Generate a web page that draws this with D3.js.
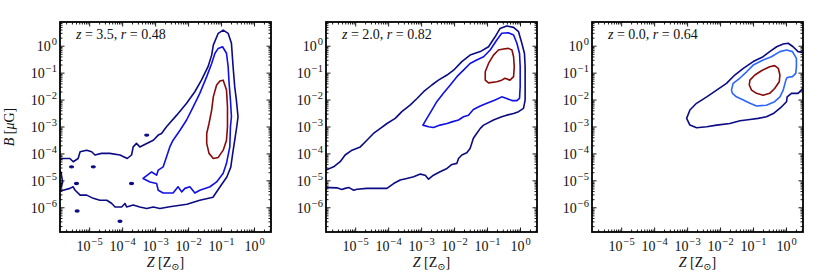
<!DOCTYPE html>
<html>
<head>
<meta charset="utf-8">
<title>B vs Z contours</title>
<script src="https://d3js.org/d3.v7.min.js"></script>
<style>
  body { margin: 0; background: #fff; }
  svg text { font-family: "Liberation Serif", "DejaVu Serif", serif; fill: #111; }
</style>
</head>
<body>
<script>
// contour vertices, each point is [log10 Z, log10 B]
var p1Outer = [[-6.0,-4.23],[-5.80,-4.17],[-5.60,-4.17],[-5.50,-4.29],[-5.35,-4.17],[-5.29,-3.92],[-5.09,-3.86],[-4.94,-3.92],
  [-4.84,-4.04],[-4.64,-3.98],[-4.39,-3.98],[-4.08,-4.04],[-3.86,-4.17],[-3.73,-4.04],[-3.68,-3.74],[-3.58,-3.61],[-3.48,-3.74],
  [-3.27,-3.61],[-3.07,-3.49],[-2.92,-3.30],[-2.82,-3.24],[-2.67,-2.99],[-2.36,-2.56],[-2.06,-2.12],[-1.81,-1.69],[-1.61,-1.26],
  [-1.41,-0.76],[-1.30,-0.33],[-1.25,0.04],[-1.10,0.48],[-0.95,0.60],[-0.80,0.48],[-0.70,0.11],[-0.65,-0.76],[-0.60,-1.51],
  [-0.55,-2.00],[-0.50,-2.62],[-0.54,-3.00],[-0.60,-3.49],[-0.66,-3.97],[-0.72,-4.49],[-0.84,-4.86],[-1.05,-5.23],[-1.26,-5.61],
  [-1.66,-5.72],[-2.05,-5.87],[-2.57,-5.96],[-2.87,-6.03],[-3.07,-5.97],[-3.27,-6.03],[-3.48,-5.97],[-3.68,-5.90],[-3.88,-5.97],
  [-3.93,-5.84],[-4.03,-5.97],[-4.23,-5.97],[-4.33,-5.84],[-4.48,-5.72],[-4.69,-5.72],[-4.89,-5.65],[-5.09,-5.53],[-5.29,-5.53],
  [-5.44,-5.35],[-5.50,-5.22],[-5.60,-5.28],[-5.80,-5.35],[-5.90,-5.35],[-5.82,-5.05],[-5.87,-4.68],[-6.0,-4.50]];
var p1Mid = [[-3.38,-4.91],[-3.12,-4.67],[-2.97,-4.79],[-2.92,-4.60],[-2.77,-4.48],[-2.67,-4.11],[-2.57,-3.74],[-2.47,-3.49],
  [-2.26,-3.12],[-2.06,-2.74],[-1.86,-2.25],[-1.66,-1.75],[-1.45,-1.13],[-1.30,-0.64],[-1.20,-0.26],[-1.10,-0.08],[-0.97,-0.02],
  [-0.85,-0.26],[-0.80,-0.76],[-0.77,-1.38],[-0.73,-2.00],[-0.70,-2.62],[-0.73,-2.99],[-0.75,-3.74],[-0.85,-4.35],[-0.95,-4.72],
  [-1.15,-5.04],[-1.35,-5.22],[-1.66,-5.35],[-1.81,-5.45],[-1.96,-5.22],[-2.11,-5.28],[-2.21,-5.41],[-2.32,-5.22],[-2.47,-5.45],
  [-2.77,-5.45],[-2.92,-5.35],[-2.97,-5.10],[-3.17,-5.04]];
var p1Inner = [[-0.95,-1.26],[-0.85,-1.63],[-0.82,-2.25],[-0.82,-2.99],[-0.85,-3.49],[-0.95,-3.86],[-1.10,-4.13],[-1.25,-4.17],
  [-1.38,-3.98],[-1.45,-3.61],[-1.45,-3.24],[-1.38,-2.87],[-1.30,-2.37],[-1.25,-1.88],[-1.15,-1.44],[-1.05,-1.29]];
var p1Islands = [[-5.55,-4.48],[-4.89,-4.48],[-5.40,-5.10],[-3.73,-5.10],[-5.38,-6.12],[-4.08,-6.50],[-3.27,-3.30]];

var p2Outer = [[-6.0,-4.65],[-5.90,-4.60],[-5.67,-4.48],[-5.47,-4.29],[-5.32,-4.04],[-5.11,-3.86],[-4.86,-3.74],[-4.66,-3.49],
  [-4.46,-3.24],[-4.25,-3.05],[-4.05,-2.87],[-3.80,-2.68],[-3.60,-2.43],[-3.35,-2.19],[-3.14,-1.94],[-2.94,-1.69],[-2.69,-1.44],
  [-2.49,-1.26],[-2.23,-1.07],[-2.03,-0.89],[-1.78,-0.57],[-1.53,-0.33],[-1.22,-0.20],[-0.97,-0.02],[-0.77,0.35],[-0.62,0.66],
  [-0.42,0.75],[-0.21,0.70],[-0.06,0.54],[0.04,0.11],[0.12,-0.27],[0.14,-0.76],[0.14,-1.50],[0.14,-2.00],[0.09,-2.31],
  [-0.06,-2.43],[-0.21,-2.50],[-0.42,-2.56],[-0.57,-2.62],[-0.82,-2.74],[-1.12,-2.93],[-1.22,-3.05],[-1.33,-3.24],[-1.43,-3.42],
  [-1.48,-3.61],[-1.53,-3.80],[-1.63,-3.96],[-1.78,-4.04],[-1.88,-4.17],[-1.93,-4.35],[-2.08,-4.39],[-2.23,-4.54],[-2.44,-4.66],
  [-2.64,-4.79],[-2.79,-4.94],[-2.89,-4.79],[-3.04,-4.75],[-3.24,-4.85],[-3.45,-4.91],[-3.65,-4.97],[-3.85,-5.10],[-4.05,-5.28],
  [-4.66,-5.28],[-4.96,-5.31],[-5.06,-5.35],[-5.16,-5.28],[-5.21,-5.25],[-5.32,-5.28],[-5.42,-5.32],[-5.57,-5.26],[-5.77,-5.25],
  [-5.90,-5.25],[-6.0,-5.25]];
var p2Mid = [[-2.96,-2.93],[-2.84,-2.68],[-2.69,-2.37],[-2.54,-2.06],[-2.34,-1.75],[-2.13,-1.44],[-1.93,-1.13],[-1.73,-0.89],
  [-1.53,-0.64],[-1.33,-0.51],[-1.12,-0.39],[-0.92,-0.14],[-0.72,0.23],[-0.57,0.48],[-0.37,0.50],[-0.21,0.42],[-0.11,0.11],
  [-0.03,-0.27],[-0.01,-0.76],[-0.01,-1.50],[-0.03,-1.94],[-0.11,-2.02],[-0.26,-2.02],[-0.42,-1.94],[-0.57,-1.88],[-0.77,-2.00],
  [-1.02,-2.12],[-1.22,-2.22],[-1.43,-2.35],[-1.58,-2.56],[-1.73,-2.62],[-1.88,-2.74],[-2.08,-2.81],[-2.23,-2.87],[-2.44,-2.93],
  [-2.64,-3.02],[-2.79,-2.99]];
var p2Inner = [[-1.07,-1.26],[-1.07,-0.95],[-0.97,-0.64],[-0.82,-0.33],[-0.67,-0.14],[-0.52,-0.10],[-0.37,-0.08],[-0.26,-0.14],
  [-0.21,-0.39],[-0.19,-0.76],[-0.21,-1.13],[-0.32,-1.26],[-0.47,-1.19],[-0.57,-1.26],[-0.72,-1.32],[-0.97,-1.36]];

var p3Outer = [[-3.03,-2.68],[-2.93,-2.37],[-2.73,-2.12],[-2.42,-1.88],[-2.12,-1.63],[-1.82,-1.38],[-1.57,-1.07],[-1.31,-0.82],
  [-1.01,-0.57],[-0.71,-0.39],[-0.51,-0.20],[-0.30,-0.02],[-0.10,0.08],[0.05,0.11],[0.20,-0.02],[0.35,-0.20],[0.56,-0.24],
  [0.70,-0.24],[0.70,-1.38],[0.56,-1.44],[0.45,-1.63],[0.35,-1.75],[0.15,-1.75],[0.02,-1.88],[0.00,-2.06],[-0.15,-2.25],
  [-0.40,-2.50],[-0.61,-2.62],[-0.86,-2.68],[-1.11,-2.72],[-1.41,-2.77],[-1.72,-2.87],[-2.12,-2.93],[-2.42,-2.99],[-2.73,-3.03],
  [-2.93,-2.93]];
var p3Mid = [[-1.67,-1.63],[-1.62,-1.38],[-1.42,-1.19],[-1.21,-0.95],[-1.01,-0.70],[-0.71,-0.51],[-0.46,-0.39],[-0.20,-0.20],
  [0.00,-0.14],[0.18,-0.20],[0.30,-0.45],[0.30,-0.76],[0.28,-1.01],[0.18,-1.13],[0.02,-1.16],[-0.02,-1.26],[-0.10,-1.63],
  [-0.20,-1.88],[-0.36,-2.06],[-0.61,-2.19],[-0.91,-2.22],[-1.11,-2.12],[-1.31,-2.00],[-1.52,-1.88],[-1.64,-1.75]];
var p3Inner = [[-1.13,-1.44],[-1.11,-1.26],[-0.96,-1.07],[-0.76,-0.91],[-0.51,-0.76],[-0.36,-0.72],[-0.25,-0.82],[-0.20,-1.07],
  [-0.22,-1.32],[-0.36,-1.57],[-0.51,-1.75],[-0.71,-1.82],[-0.91,-1.75],[-1.06,-1.63]];

var redshifts = ["3.5", "2.0", "0.0"];
var corrs = ["0.48", "0.82", "0.64"];
var xTickExps = [-5, -4, -3, -2, -1, 0];
var yTickExps = [-6, -5, -4, -3, -2, -1, 0];

// Setup
var width = 830, height = 277;
var pw = 211, ph = 210, panelTop = 22;
var lefts = [60, 326, 592];

var svg = d3.select("body").append("svg")
    .attr("width", width)
    .attr("height", height);

var x = d3.scaleLog().domain([Math.pow(10, -5.9), Math.pow(10, 0.5)]).range([0, pw]);
var y = d3.scaleLog().domain([Math.pow(10, -6.9), Math.pow(10, 0.9)]).range([ph, 0]);

var line = d3.line()
    .x(function(d) { return x(Math.pow(10, d[0])); })
    .y(function(d) { return y(Math.pow(10, d[1])); })
    .curve(d3.curveLinearClosed);

var panels = [
  { outer: p1Outer, mid: p1Mid, inner: p1Inner, islands: p1Islands, midColor: "#1010e6" },
  { outer: p2Outer, mid: p2Mid, inner: p2Inner, islands: [], midColor: "#1010e6" },
  { outer: p3Outer, mid: p3Mid, inner: p3Inner, islands: [], midColor: "#2b66ff" }
];

function isMajor(v) {
  var l = Math.log10(v);
  return Math.abs(l - Math.round(l)) < 1e-6;
}

// writes 10^e as text with a raised exponent
function powLabel(sel, e) {
  sel.append("tspan").text("10");
  sel.append("tspan")
      .attr("dy", -6)
      .attr("dx", 1)
      .style("font-size", "10.5px")
      .text(e < 0 ? "\u2212" + (-e) : String(e));
}

panels.forEach(function(p, i) {
  var g = svg.append("g").attr("transform", "translate(" + lefts[i] + "," + panelTop + ")");

  g.append("clipPath").attr("id", "clip" + i)
    .append("rect").attr("width", pw).attr("height", ph);

  var plot = g.append("g").attr("clip-path", "url(#clip" + i + ")");

  // contours, outer to inner
  [[p.outer, "#0b0b84"], [p.mid, p.midColor], [p.inner, "#870b0b"]].forEach(function(c) {
    plot.append("path")
        .attr("d", line(c[0]))
        .style("fill", "none")
        .style("stroke", c[1])
        .style("stroke-width", 1.6)
        .style("stroke-linejoin", "round");
  });

  plot.selectAll("ellipse").data(p.islands).enter()
    .append("ellipse")
      .attr("cx", function(d) { return x(Math.pow(10, d[0])); })
      .attr("cy", function(d) { return y(Math.pow(10, d[1])); })
      .attr("rx", 2)
      .attr("ry", 1.1)
      .style("fill", "#0b0b84")
      .style("stroke", "#0b0b84")
      .style("stroke-width", 1.2);

  // ticks on all four sides, pointing inward
  x.ticks().forEach(function(v) {
    var len = isMajor(v) ? 4.5 : 2.5, xx = x(v);
    g.append("line").attr("x1", xx).attr("x2", xx).attr("y1", ph).attr("y2", ph - len)
      .style("stroke", "#000").style("stroke-width", 0.9);
    g.append("line").attr("x1", xx).attr("x2", xx).attr("y1", 0).attr("y2", len)
      .style("stroke", "#000").style("stroke-width", 0.9);
  });
  y.ticks().forEach(function(v) {
    var len = isMajor(v) ? 4.5 : 2.5, yy = y(v);
    g.append("line").attr("y1", yy).attr("y2", yy).attr("x1", 0).attr("x2", len)
      .style("stroke", "#000").style("stroke-width", 0.9);
    g.append("line").attr("y1", yy).attr("y2", yy).attr("x1", pw).attr("x2", pw - len)
      .style("stroke", "#000").style("stroke-width", 0.9);
  });

  // frame
  g.append("rect").attr("width", pw).attr("height", ph)
    .style("fill", "none").style("stroke", "#000").style("stroke-width", 1.8);

  // tick labels
  xTickExps.forEach(function(e) {
    var t = g.append("text")
        .attr("x", x(Math.pow(10, e)))
        .attr("y", ph + 19)
        .attr("text-anchor", "middle")
        .style("font-size", "14px");
    powLabel(t, e);
  });
  yTickExps.forEach(function(e) {
    var t = g.append("text")
        .attr("x", -3)
        .attr("y", y(Math.pow(10, e)) + 5)
        .attr("text-anchor", "end")
        .style("font-size", "14px");
    powLabel(t, e);
  });

  // panel annotation
  var a = g.append("text").attr("x", 16).attr("y", 16.5).style("font-size", "14px");
  a.append("tspan").style("font-style", "italic").text("z");
  a.append("tspan").text(" = " + redshifts[i] + ", ");
  a.append("tspan").style("font-style", "italic").text("r");
  a.append("tspan").text(" = " + corrs[i]);

  // x axis title
  var xt = g.append("text").attr("x", pw / 2).attr("y", ph + 35)
      .attr("text-anchor", "middle").style("font-size", "14px");
  xt.append("tspan").style("font-style", "italic").text("Z");
  xt.append("tspan").text(" [Z");
  xt.append("tspan").attr("dy", 3).style("font-size", "10px").text("\u2299");
  xt.append("tspan").attr("dy", -3).text("]");

  // y axis title only on the first panel
  if (i === 0) {
    var yt = g.append("text")
        .attr("transform", "translate(-46," + (ph / 2) + ") rotate(-90)")
        .attr("text-anchor", "middle")
        .style("font-size", "14px");
    yt.append("tspan").style("font-style", "italic").text("B");
    yt.append("tspan").text(" [");
    yt.append("tspan").style("font-style", "italic").text("\u03bc");
    yt.append("tspan").text("G]");
  }
});
</script>
</body>
</html>
